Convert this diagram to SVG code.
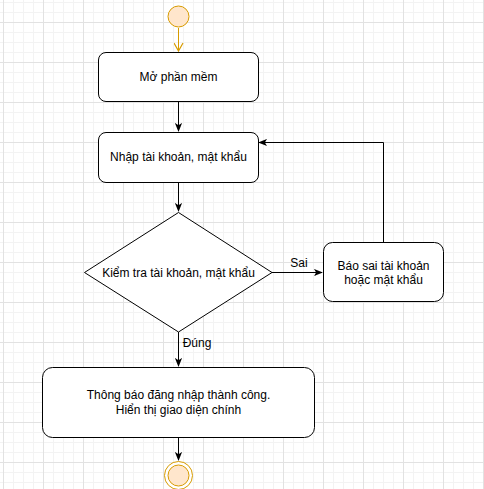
<svg xmlns="http://www.w3.org/2000/svg" width="484" height="489" viewBox="0 0 484 489">
<defs>
<pattern id="grid" x="3" y="2" width="40" height="40" patternUnits="userSpaceOnUse">
<rect x="0" y="0" width="40" height="40" fill="#ffffff"/>
<rect x="0" y="0" width="1" height="40" fill="#f3f3f3"/>
<rect x="10" y="0" width="1" height="40" fill="#f3f3f3"/>
<rect x="20" y="0" width="1" height="40" fill="#f3f3f3"/>
<rect x="30" y="0" width="1" height="40" fill="#f3f3f3"/>
<rect x="0" y="0" width="40" height="1" fill="#f3f3f3"/>
<rect x="0" y="10" width="40" height="1" fill="#f3f3f3"/>
<rect x="0" y="30" width="40" height="1" fill="#f3f3f3"/>
<rect x="0" y="20" width="40" height="1" fill="#e2e2e2"/>
<rect x="0" y="0" width="1" height="40" fill="#e2e2e2"/>
</pattern>
<marker id="arr" viewBox="0 0 10 8" refX="9" refY="4" markerWidth="9" markerHeight="8" markerUnits="userSpaceOnUse" orient="auto">
<path d="M0,0 L10,4 L0,8 L2.5,4 z" fill="#000"/>
</marker>
<marker id="open" viewBox="0 0 10 10" refX="9" refY="5" markerWidth="10" markerHeight="10" markerUnits="userSpaceOnUse" orient="auto">
<path d="M1,0.5 L9,5 L1,9.5" fill="none" stroke="#d79b00" stroke-width="1.2"/>
</marker>
</defs>
<style>
.box{fill:#fff;stroke:#000;stroke-width:1}
.t{font-family:"Liberation Sans",Arial,sans-serif;font-size:12px;fill:#000;text-anchor:middle;dominant-baseline:central}
.e{fill:none;stroke:#000;stroke-width:1}
</style>
<rect x="0" y="0" width="484" height="489" fill="url(#grid)"/>
<g id="connectors">
<line x1="178.5" y1="28" x2="178.5" y2="51" stroke="#d79b00" stroke-width="1" marker-end="url(#open)"/>
<line class="e" x1="178.5" y1="102" x2="178.5" y2="131" marker-end="url(#arr)"/>
<line class="e" x1="178.5" y1="182" x2="178.5" y2="211" marker-end="url(#arr)"/>
<line class="e" x1="272" y1="272.5" x2="322" y2="272.5" marker-end="url(#arr)"/>
<polyline class="e" points="383.5,242 383.5,142.5 259,142.5" marker-end="url(#arr)"/>
<line class="e" x1="178.5" y1="332" x2="178.5" y2="366" marker-end="url(#arr)"/>
<line class="e" x1="178.5" y1="437" x2="178.5" y2="460" marker-end="url(#arr)"/>
<text class="t" x="299" y="263">Sai</text>
<text class="t" x="197" y="343">Đúng</text>
</g>
<g id="start">
<circle cx="178.5" cy="16.5" r="10.5" fill="#ffe6cc" stroke="#d79b00" stroke-width="1"/>
</g>
<g id="open-software">
<rect class="box" x="98.5" y="52.5" width="160" height="49" rx="7.5"/>
<text class="t" x="178.5" y="77">Mở phần mềm</text>
</g>
<g id="enter-credentials">
<rect class="box" x="98.5" y="132.5" width="160" height="50" rx="7.5"/>
<text class="t" x="178.5" y="157">Nhập tài khoản, mật khẩu</text>
</g>
<g id="check">
<polygon class="box" points="178.5,212.5 272,272.5 178.5,332 84.5,272.5"/>
<text class="t" x="178.5" y="273">Kiểm tra tài khoản, mật khẩu</text>
</g>
<g id="error">
<rect class="box" x="323.5" y="242.5" width="120" height="59" rx="9"/>
<text class="t" x="383.5" y="266">Báo sai tài khoản</text>
<text class="t" x="383.5" y="280">hoặc mật khẩu</text>
</g>
<g id="success">
<rect class="box" x="42.5" y="367.5" width="272" height="70" rx="10"/>
<text class="t" x="178.5" y="395">Thông báo đăng nhập thành công.</text>
<text class="t" x="178.5" y="410">Hiển thị giao diện chính</text>
</g>
<g id="end">
<circle cx="178.5" cy="475.5" r="14" fill="#fff" stroke="#d79b00" stroke-width="1"/>
<circle cx="178.5" cy="475.5" r="10.5" fill="#ffe6cc" stroke="#d79b00" stroke-width="1"/>
</g>
</svg>
